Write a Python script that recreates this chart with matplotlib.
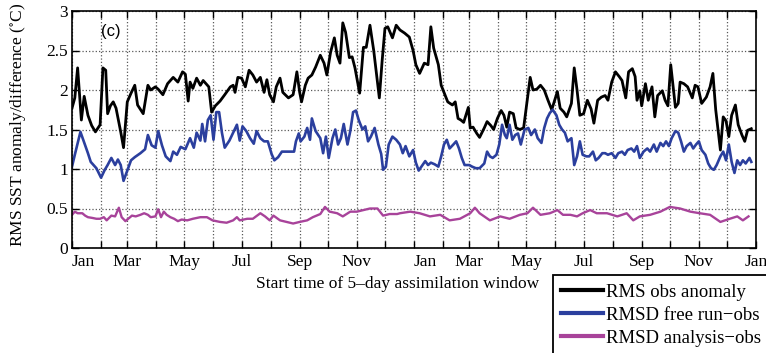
import numpy as np
import pandas as pd
import matplotlib
matplotlib.use("Agg")
import matplotlib.pyplot as plt

# days since the first 5-day window start (two years shown)
obs_day = [0, 3, 6, 10, 13, 17, 21, 25, 30, 33, 36, 38, 41, 44, 47, 52, 55, 59, 63, 67,
           70, 76, 81, 84, 89, 92, 97, 102, 108, 113, 118, 121, 124, 126, 129, 133, 137, 140, 143, 146,
           149, 153, 158, 163, 169, 172, 174, 177, 181, 185, 189, 193, 197, 201, 205, 208, 211, 215, 218, 222,
           225, 231, 236, 240, 243, 245, 249, 252, 256, 260, 265, 269, 272, 276, 280, 283, 286, 289, 292, 296,
           299, 302, 307, 311, 314, 318, 322, 328, 331, 334, 337, 342, 346, 350, 355, 360, 364, 367, 371, 376,
           380, 383, 386, 391, 394, 398, 401, 406, 409, 412, 415, 418, 423, 425, 428, 432, 435, 440, 443, 447,
           450, 454, 458, 461, 464, 467, 471, 474, 478, 482, 489, 492, 496, 500, 504, 508, 512, 518, 521, 525,
           528, 533, 536, 539, 542, 546, 550, 554, 557, 561, 565, 569, 572, 576, 580, 584, 587, 591, 594, 598,
           601, 603, 606, 608, 612, 615, 619, 622, 625, 630, 633, 636, 639, 644, 647, 649, 653, 657, 662, 665,
           668, 672, 677, 681, 684, 687, 692, 695, 698, 701, 704, 708, 711, 715, 718, 721, 725]
obs_anom = [1.77, 1.90, 2.28, 1.62, 1.92, 1.68, 1.55, 1.47, 1.56, 2.28, 2.25, 1.70, 1.80, 1.85, 1.77, 1.47, 1.27, 1.85, 1.96, 2.06,
            1.81, 1.70, 2.06, 2.00, 2.04, 2.01, 1.94, 2.08, 2.16, 2.10, 2.23, 2.20, 1.86, 2.10, 2.02, 2.15, 2.06, 2.12, 2.08, 2.04,
            1.72, 1.80, 1.86, 1.94, 2.04, 2.06, 1.97, 2.16, 2.15, 2.04, 2.25, 2.19, 2.10, 2.16, 1.97, 2.13, 1.94, 1.85, 2.04, 2.15,
            1.97, 1.90, 1.94, 2.23, 1.97, 1.85, 2.06, 2.15, 2.19, 2.29, 2.44, 2.34, 2.19, 2.48, 2.66, 2.44, 2.34, 2.85, 2.73, 2.41,
            2.42, 2.28, 1.96, 2.54, 2.54, 2.82, 2.50, 1.90, 2.37, 2.78, 2.80, 2.66, 2.82, 2.76, 2.72, 2.67, 2.50, 2.32, 2.21, 2.34,
            2.32, 2.80, 2.53, 2.32, 2.06, 1.94, 1.85, 1.81, 1.85, 1.64, 1.62, 1.59, 1.78, 1.52, 1.53, 1.45, 1.40, 1.52, 1.60, 1.55,
            1.50, 1.64, 1.74, 1.68, 1.53, 1.72, 1.70, 1.52, 1.50, 1.52, 2.16, 2.00, 2.01, 2.06, 2.00, 1.87, 1.75, 1.98, 1.77, 1.72,
            1.66, 1.83, 2.28, 2.00, 1.68, 1.70, 1.87, 1.76, 1.58, 1.87, 1.91, 1.93, 1.87, 2.10, 2.23, 2.17, 2.12, 1.90, 2.23, 2.27,
            2.17, 1.87, 1.99, 1.80, 2.08, 1.87, 2.04, 1.66, 1.93, 1.99, 1.87, 1.80, 2.32, 1.78, 1.83, 2.10, 2.08, 2.04, 1.90, 2.06,
            2.04, 1.83, 1.91, 2.04, 2.21, 1.75, 1.24, 1.66, 1.61, 1.41, 1.68, 1.81, 1.56, 1.43, 1.35, 1.49, 1.51]

free_day = [0, 3, 9, 14, 17, 20, 26, 31, 35, 38, 42, 46, 49, 52, 55, 60, 63, 67, 73, 78,
            81, 85, 89, 92, 96, 100, 105, 108, 112, 116, 121, 126, 130, 133, 137, 139, 142, 145, 148, 151,
            154, 157, 160, 163, 168, 172, 176, 179, 182, 186, 190, 194, 197, 201, 205, 209, 213, 216, 220, 224,
            229, 233, 237, 239, 242, 244, 248, 251, 254, 256, 260, 265, 268, 271, 274, 278, 281, 284, 287, 290,
            294, 297, 300, 303, 306, 310, 313, 316, 319, 323, 327, 330, 332, 335, 338, 342, 346, 350, 353, 356,
            360, 364, 367, 370, 374, 377, 380, 383, 387, 391, 394, 397, 400, 403, 407, 410, 413, 416, 419, 424,
            427, 431, 435, 440, 443, 446, 449, 453, 456, 459, 462, 464, 467, 470, 473, 476, 479, 483, 487, 490,
            494, 497, 501, 504, 507, 510, 513, 517, 520, 523, 526, 529, 533, 536, 539, 542, 545, 549, 552, 556,
            559, 562, 566, 569, 572, 576, 580, 583, 587, 590, 593, 597, 600, 603, 606, 610, 614, 617, 621, 624,
            628, 631, 634, 637, 640, 644, 647, 650, 653, 656, 660, 663, 666, 669, 672, 676, 679, 682, 685, 688,
            692, 695, 698, 701, 704, 707, 710, 713, 716, 719, 723, 725]
free_rmsd = [1.03, 1.18, 1.47, 1.30, 1.20, 1.09, 1.01, 0.89, 0.99, 1.05, 1.14, 1.05, 1.12, 1.05, 0.85, 1.01, 1.11, 1.15, 1.20, 1.25,
             1.43, 1.30, 1.27, 1.48, 1.30, 1.16, 1.10, 1.22, 1.18, 1.28, 1.25, 1.39, 1.27, 1.46, 1.36, 1.57, 1.35, 1.62, 1.68, 1.37,
             1.72, 1.72, 1.46, 1.27, 1.36, 1.46, 1.56, 1.36, 1.54, 1.48, 1.39, 1.32, 1.48, 1.39, 1.35, 1.35, 1.19, 1.11, 1.15, 1.22,
             1.22, 1.22, 1.22, 1.35, 1.45, 1.35, 1.41, 1.52, 1.37, 1.64, 1.48, 1.39, 1.20, 1.41, 1.14, 1.39, 1.50, 1.31, 1.39, 1.57,
             1.31, 1.48, 1.72, 1.74, 1.62, 1.50, 1.54, 1.35, 1.41, 1.52, 1.31, 1.19, 0.99, 1.03, 1.31, 1.41, 1.37, 1.31, 1.20, 1.29,
             1.16, 1.24, 1.08, 0.98, 1.05, 1.10, 1.05, 1.08, 1.06, 1.03, 1.16, 1.31, 1.37, 1.26, 1.31, 1.35, 1.26, 1.14, 1.05, 1.05,
             1.03, 1.01, 1.01, 1.07, 1.22, 1.16, 1.14, 1.18, 1.31, 1.56, 1.43, 1.39, 1.56, 1.37, 1.43, 1.45, 1.31, 1.50, 1.52, 1.43,
             1.50, 1.39, 1.33, 1.52, 1.64, 1.71, 1.75, 1.68, 1.56, 1.50, 1.46, 1.35, 1.39, 1.05, 1.16, 1.35, 1.18, 1.16, 1.16, 1.22,
             1.11, 1.14, 1.20, 1.20, 1.18, 1.20, 1.14, 1.20, 1.22, 1.18, 1.24, 1.26, 1.22, 1.29, 1.14, 1.22, 1.26, 1.22, 1.31, 1.22,
             1.33, 1.29, 1.35, 1.29, 1.39, 1.48, 1.46, 1.35, 1.22, 1.29, 1.33, 1.26, 1.31, 1.35, 1.24, 1.18, 1.07, 1.01, 0.99, 1.05,
             1.16, 1.22, 1.11, 1.31, 1.09, 0.95, 1.11, 1.05, 1.11, 1.07, 1.14, 1.09]

ana_day = [0, 3, 6, 11, 14, 17, 22, 26, 30, 34, 37, 42, 46, 50, 53, 57, 60, 64, 68, 73,
           77, 81, 84, 89, 92, 95, 98, 101, 105, 109, 113, 117, 123, 129, 137, 144, 150, 158, 165, 172,
           176, 179, 187, 193, 201, 206, 211, 215, 222, 229, 236, 243, 251, 257, 265, 270, 275, 283, 289, 297,
           304, 311, 318, 326, 332, 339, 347, 350, 361, 371, 382, 393, 403, 414, 425, 430, 435, 446, 457, 467,
           478, 486, 492, 500, 510, 518, 524, 532, 539, 545, 553, 560, 571, 582, 592, 599, 606, 617, 628, 638,
           649, 660, 670, 681, 692, 702, 710, 716, 722]
ana_rmsd = [0.42, 0.46, 0.44, 0.44, 0.41, 0.39, 0.38, 0.37, 0.37, 0.39, 0.35, 0.41, 0.40, 0.51, 0.39, 0.34, 0.37, 0.41, 0.40, 0.42,
            0.44, 0.42, 0.39, 0.40, 0.49, 0.39, 0.46, 0.42, 0.39, 0.37, 0.34, 0.36, 0.35, 0.37, 0.39, 0.39, 0.35, 0.33, 0.32, 0.35,
            0.39, 0.35, 0.37, 0.37, 0.44, 0.40, 0.35, 0.41, 0.35, 0.33, 0.31, 0.33, 0.35, 0.39, 0.43, 0.52, 0.46, 0.44, 0.40, 0.46,
            0.46, 0.48, 0.50, 0.50, 0.41, 0.43, 0.43, 0.44, 0.46, 0.44, 0.40, 0.42, 0.35, 0.37, 0.44, 0.51, 0.44, 0.35, 0.40, 0.37,
            0.42, 0.44, 0.51, 0.42, 0.44, 0.48, 0.42, 0.42, 0.40, 0.44, 0.48, 0.44, 0.44, 0.40, 0.44, 0.35, 0.40, 0.42, 0.46, 0.52,
            0.50, 0.46, 0.44, 0.42, 0.33, 0.37, 0.40, 0.35, 0.40]

start = pd.Timestamp("2010-01-01")
month_starts = pd.date_range(start, "2012-01-01", freq="MS")
tick_pos = [(d - start).days for d in month_starts]
tick_lab = [d.strftime("%b") if i % 2 == 0 else "" for i, d in enumerate(month_starts)]

plt.rcParams["font.family"] = ["Liberation Serif", "DejaVu Serif"]
plt.rcParams["mathtext.fontset"] = "stix"

fig = plt.figure(figsize=(7.66, 3.53), dpi=100)
ax = fig.add_axes([72 / 766, 1 - 248 / 353, 684 / 766, 237 / 353])

l1, = ax.plot(obs_day, obs_anom, color="black", lw=2.0, label="RMS obs anomaly")
l2, = ax.plot(free_day, free_rmsd, color="#2b3f9e", lw=1.9, label="RMSD free run\u2212obs")
l3, = ax.plot(ana_day, ana_rmsd, color="#a8439a", lw=1.7, label="RMSD analysis\u2212obs")

ax.set_xlim(0, tick_pos[-1])
ax.set_ylim(0, 3)
ax.set_xticks(tick_pos)
ax.set_xticklabels(tick_lab)
ax.set_yticks(np.arange(0, 3.01, 0.5))
ax.set_yticklabels(["0", "0.5", "1", "1.5", "2", "2.5", "3"])
ax.tick_params(direction="in", top=True, right=True, length=5, width=1.0, labelsize=12.5, pad=4)
ax.tick_params(axis="y", pad=3)
ax.grid(True, linestyle=":", color="0.35", linewidth=0.9)
for s in ax.spines.values():
    s.set_linewidth(1.2)

# the first two "Jan" labels sit just right of their ticks, clear of the "0"
xt = ax.get_xticklabels()
xt[0].set_horizontalalignment("left")
xt[12].set_horizontalalignment("left")

ax.set_ylabel("RMS SST anomaly/difference ($^{\\circ}$C)", fontsize=12.5)
ax.yaxis.set_label_coords(-0.064, 0.52)
fig.text(398 / 766, 1 - 284 / 353, "Start time of 5\u2013day assimilation window",
         ha="center", va="center", fontsize=12.5)
ax.text(0.042, 0.915, "(c)", transform=ax.transAxes, fontsize=12,
        family=["Liberation Sans", "DejaVu Sans"], ha="left", va="center")

leg = fig.legend(handles=[l1, l2, l3], loc="upper left",
                 bbox_to_anchor=(553 / 766, 1 - 275 / 353), fontsize=13.5,
                 frameon=True, fancybox=False, edgecolor="black", framealpha=1,
                 handlelength=2.2, handletextpad=0.15, borderpad=0.45, labelspacing=0.32,
                 borderaxespad=0)
leg.get_frame().set_linewidth(1.3)
for ln in leg.get_lines():
    ln.set_linewidth(3.0)

fig.savefig("out.png", dpi=100)
